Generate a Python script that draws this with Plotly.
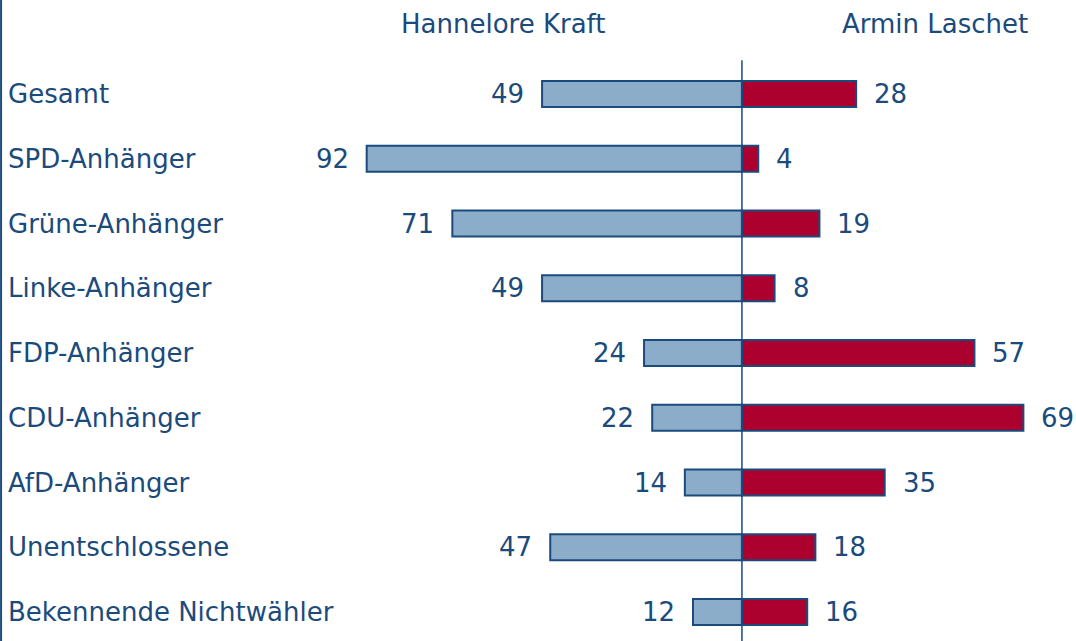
import plotly.graph_objects as go

# Data
groups = ["Gesamt", "SPD-Anhänger", "Grüne-Anhänger", "Linke-Anhänger",
          "FDP-Anhänger", "CDU-Anhänger", "AfD-Anhänger", "Unentschlossene",
          "Bekennende Nichtwähler"]
kraft = [49, 92, 71, 49, 24, 22, 14, 47, 12]
laschet = [28, 4, 19, 8, 57, 69, 35, 18, 16]
names = ["Hannelore Kraft", "Armin Laschet"]

navy = "#1B4A7C"
font = dict(family="DejaVu Sans, Verdana, sans-serif", size=26, color=navy)

fig = go.Figure()
fig.add_trace(go.Bar(
    y=groups, x=[-v for v in kraft], orientation="h", name=names[0],
    width=0.4, marker=dict(color="#8BADC9", line=dict(color=navy, width=2)),
    customdata=kraft, hovertemplate="%{y}: %{customdata}<extra></extra>"
))
fig.add_trace(go.Bar(
    y=groups, x=laschet, orientation="h", name=names[1],
    width=0.4, marker=dict(color="#AC002F", line=dict(color=navy, width=2)),
    hovertemplate="%{y}: %{x}<extra></extra>"
))

annotations = []
for g, k, l in zip(groups, kraft, laschet):
    annotations.append(dict(x=0, xref="paper", y=g, yref="y", text=g,
                            xanchor="left", xshift=6, showarrow=False, font=font))
    annotations.append(dict(x=-k, y=g, text=str(k), xanchor="right", xshift=-16,
                            showarrow=False, font=font))
    annotations.append(dict(x=l, y=g, text=str(l), xanchor="left", xshift=16,
                            showarrow=False, font=font))

# column headers
annotations.append(dict(x=0.468, xref="paper", y=0.962, yref="paper", text=names[0],
                        xanchor="center", yanchor="middle", showarrow=False, font=font))
annotations.append(dict(x=0.869, xref="paper", y=0.962, yref="paper", text=names[1],
                        xanchor="center", yanchor="middle", showarrow=False, font=font))

fig.update_layout(
    barmode="overlay",
    width=1076, height=641,
    margin=dict(t=0, b=0, l=0, r=0),
    plot_bgcolor="white", paper_bgcolor="white",
    showlegend=False,
    font=font,
    annotations=annotations,
    xaxis=dict(range=[-181.9, 81.9], visible=False, fixedrange=True),
    yaxis=dict(range=[8.448, -1.452], visible=False, type="category",
               fixedrange=True),
    shapes=[
        dict(type="line", xref="x", yref="paper", x0=0, x1=0, y0=0, y1=0.906,
             line=dict(color=navy, width=1.5), layer="above"),
        dict(type="line", xref="paper", yref="paper", x0=0.001, x1=0.001, y0=0, y1=1,
             line=dict(color=navy, width=2)),
    ],
)

# drop the default page margin so the chart sits at the window's corner
fig.write_html("out.html", config={"displayModeBar": False},
               post_script="document.body.style.margin='0';")
